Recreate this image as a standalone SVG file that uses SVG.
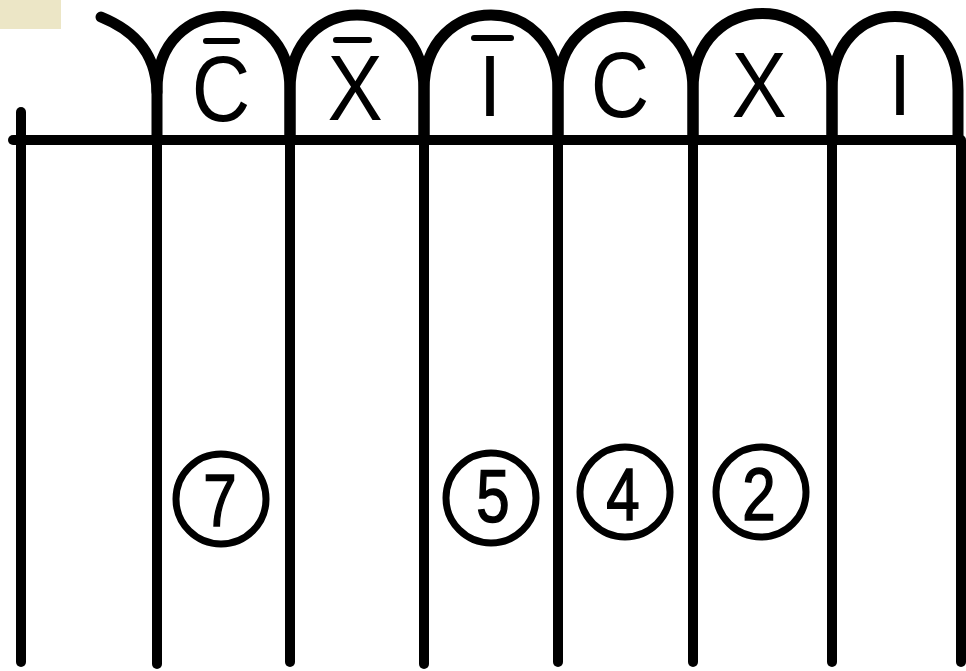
<svg xmlns="http://www.w3.org/2000/svg" width="966" height="671" viewBox="0 0 966 671">
<style>
.ln{fill:none;stroke:#000;stroke-width:10;stroke-linecap:round;stroke-linejoin:round}
.arc{fill:none;stroke:#000;stroke-width:11;stroke-linecap:round;stroke-linejoin:round}
.bar{stroke:#000;stroke-width:6;stroke-linecap:round}
.lbl{font-family:"Liberation Sans",Arial,sans-serif;font-size:92px;text-anchor:middle;fill:#000}
.num{font-family:"Liberation Sans",Arial,sans-serif;font-size:75px;text-anchor:middle;fill:#000;stroke:#000;stroke-width:1.6}
.ring{fill:none;stroke:#000;stroke-width:7}
</style>
<rect width="966" height="671" fill="#fff"/>
<rect x="0" y="0" width="61" height="29" fill="#ece6c6"/>
<g id="frame">
<path class="ln" d="M13,140 H960"/>
<path class="ln" d="M21,112 V662"/>
<path class="ln" d="M157,140 V664"/>
<path class="ln" d="M290,140 V662"/>
<path class="ln" d="M424,140 V664"/>
<path class="ln" d="M558,140 V662"/>
<path class="ln" d="M693,140 V662"/>
<path class="ln" d="M832,140 V662"/>
<path class="ln" d="M961,140 V662"/>
<path class="arc" d="M101,17 C128,28 156,48 157,92"/>
</g>
<g id="arches">
<path class="arc" d="M157,140 V90 C157,-8 290,-8 290,90 V140"/>
<path class="arc" d="M290,140 V90 C290,-10 424,-10 424,90 V140"/>
<path class="arc" d="M424,140 V90 C424,-10 558,-10 558,90 V140"/>
<path class="arc" d="M558,140 V90 C558,-8 693,-8 693,90 V140"/>
<path class="arc" d="M693,140 V90 C693,-12 832,-12 832,90 V140"/>
<path class="arc" d="M832,140 V90 C832,-8 958,-8 958,90 V140"/>
</g>
<g id="cell-Cbar">
<text class="lbl" transform="translate(221,121) scale(0.88,1)">C</text>
<line class="bar" x1="206" y1="41" x2="237" y2="41"/>
</g>
<g id="cell-Xbar">
<text class="lbl" transform="translate(355,120) scale(0.9,1)">X</text>
<line class="bar" x1="336" y1="40" x2="369" y2="40"/>
</g>
<g id="cell-Ibar">
<text class="lbl" transform="translate(490,116) scale(0.9,0.95)">I</text>
<line class="bar" x1="474" y1="38" x2="511" y2="38"/>
</g>
<g id="cell-C">
<text class="lbl" transform="translate(620,117) scale(0.88,1)">C</text>
</g>
<g id="cell-X">
<text class="lbl" transform="translate(759,117) scale(0.9,1)">X</text>
</g>
<g id="cell-I">
<text class="lbl" transform="translate(900,115) scale(0.9,0.95)">I</text>
</g>
<g id="mark-7">
<circle class="ring" cx="221" cy="499" r="45"/>
<text class="num" transform="translate(220,526) scale(0.8,1)">7</text>
</g>
<g id="mark-5">
<circle class="ring" cx="491" cy="498" r="45"/>
<text class="num" transform="translate(493,522) scale(0.8,1)">5</text>
</g>
<g id="mark-4">
<circle class="ring" cx="625" cy="492" r="45"/>
<text class="num" transform="translate(623,520) scale(0.8,1)">4</text>
</g>
<g id="mark-2">
<circle class="ring" cx="761" cy="492" r="45"/>
<text class="num" transform="translate(759,520) scale(0.8,1)">2</text>
</g>
</svg>
